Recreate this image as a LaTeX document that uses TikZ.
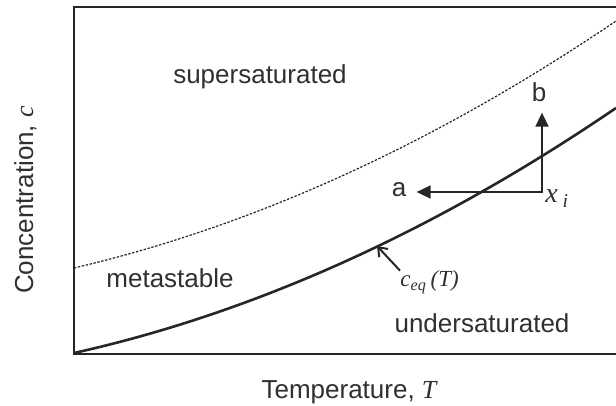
\documentclass[tikz,border=0pt]{standalone}
\usepackage{fontspec}
\setmainfont{Liberation Sans}
\newfontfamily\phSerif{Liberation Serif}
\usetikzlibrary{arrows.meta,positioning}
\definecolor{phInk}{RGB}{38,38,38}
\definecolor{phText}{RGB}{48,48,48}
\tikzset{
    phLabel/.style={
        font=\fontsize{13}{15}\selectfont,
        text=phText,
        inner sep=0pt
    },
    phMath/.style={
        font=\fontsize{11.5}{13}\selectfont\phSerif\itshape,
        text=phText,
        inner sep=0pt
    },
    phTag/.style={phLabel, inner sep=5pt},
    % Curves
    eqCurve/.style={draw=phInk, line width=1.3pt},
    limCurve/.style={draw=phInk, line width=0.6pt, dash pattern=on 1.2pt off 0.8pt},
    % Arrows
    phArrow/.style={{Triangle[length=7pt,width=6.5pt]}-{Triangle[length=7pt,width=6.5pt]}, draw=phInk, line width=0.8pt},
    phPointer/.style={-{Straight Barb[length=4pt,width=6pt]}, draw=phInk, line width=1pt}
}

\begin{document}
\begin{tikzpicture}[x=0.5pt, y=-0.5pt]
\path[clip] (0,0) rectangle (616,406);
\fill[white] (0,0) rectangle (616,406);

% frame
\draw[phInk, line width=1pt] (630,7) -- (74,7) -- (74,354) -- (630,354);

% solubility and metastable limit
\draw[eqCurve] (74,353) .. controls (254.7,312.7) and (435.3,231.1) .. (616,108);
\draw[limCurve] (74,268) .. controls (254.7,225.7) and (435.3,143.4) .. (616,21);

\node[phLabel, anchor=base] (sup) at (260,84) {supersaturated};
\node[phLabel, anchor=base] (meta) at (170,288) {metastable};
\node[phLabel, anchor=base] (under) at (482,333) {undersaturated};

\node[phLabel, anchor=base] (xlab) at (349,399) {Temperature, {\phSerif\itshape T}};
\node[phLabel, anchor=base, rotate=90] (ylab) at (33,200) {Concentration, {\phSerif\itshape c}};

% state x_i and the two paths
\coordinate (xiPt) at (542,192);
\node[phMath, font=\fontsize{14}{16}\selectfont\phSerif\itshape, anchor=base west] (xi) at (545,203) {x\,\textsubscript{i}};
\node[phTag, anchor=base] (a) at (399,197) {a};
\node[phTag, anchor=base] (b) at (539,102) {b};
\draw[phArrow] (xiPt -| a.east) -- (xiPt) -- (xiPt |- b.south);

\coordinate (ceqPt) at (377,246);
\node[phMath, anchor=base west] (ceq) at (400,287) {c\textsubscript{eq}\,(T)};
\draw[phPointer] (ceq.north west) -- (ceqPt);
\end{tikzpicture}
\end{document}
